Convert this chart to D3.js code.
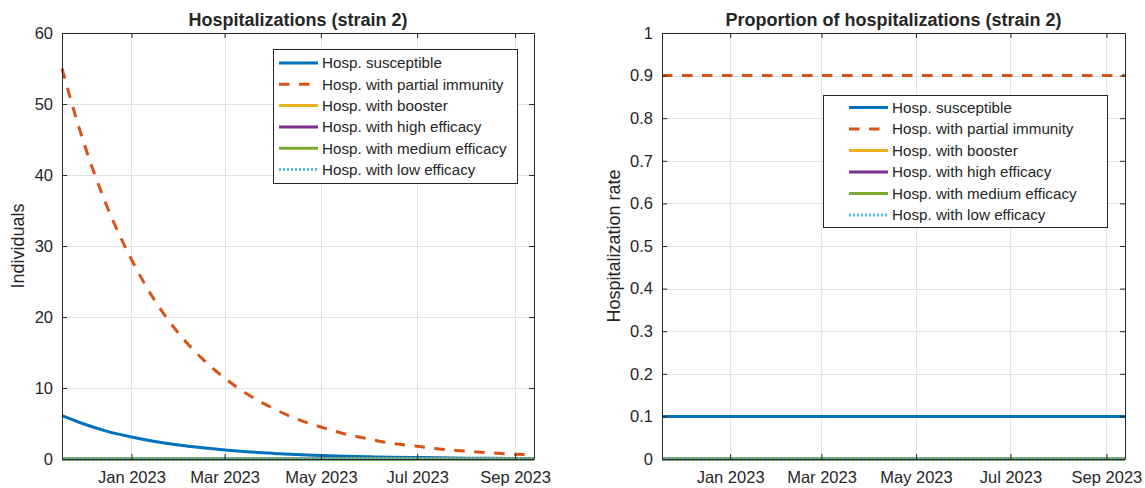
<!DOCTYPE html>
<html>
<head>
<meta charset="utf-8">
<script src="https://cdn.jsdelivr.net/npm/d3@7"></script>
<style>
  body { margin: 0; background: #fff; }
  svg { display: block; }
  text { font-family: "Liberation Sans", Arial, Helvetica, sans-serif; fill: #262626; }
</style>
</head>
<body>
<svg id="chart" width="1145" height="488"></svg>
<script>
// Sample dates of the simulation output
const dates = [
  "2022-11-18", "2022-12-01", "2022-12-15", "2023-01-01", "2023-01-15",
  "2023-02-01", "2023-02-15", "2023-03-01", "2023-03-15", "2023-04-01",
  "2023-04-15", "2023-05-01", "2023-05-15", "2023-06-01", "2023-06-15",
  "2023-07-01", "2023-07-15", "2023-08-01", "2023-08-15", "2023-09-01",
  "2023-09-13"
];

// Hospitalizations (individuals) per group
const hospSusceptible = [6.1, 5.0, 4.0, 3.1, 2.5, 1.93, 1.57, 1.27, 1.02, 0.79, 0.63, 0.50, 0.40, 0.31, 0.24, 0.20, 0.16, 0.12, 0.10, 0.08, 0.06];
const hospPartial     = [55.0, 45.1, 36.4, 28.1, 22.6, 17.4, 14.1, 11.4, 9.2, 7.1, 5.7, 4.5, 3.6, 2.8, 2.2, 1.8, 1.4, 1.1, 0.88, 0.68, 0.57];
const hospBooster     = [0, 0, 0, 0, 0, 0, 0, 0, 0, 0, 0, 0, 0, 0, 0, 0, 0, 0, 0, 0, 0];
const hospHigh        = [0, 0, 0, 0, 0, 0, 0, 0, 0, 0, 0, 0, 0, 0, 0, 0, 0, 0, 0, 0, 0];
const hospMedium      = [0, 0, 0, 0, 0, 0, 0, 0, 0, 0, 0, 0, 0, 0, 0, 0, 0, 0, 0, 0, 0];
const hospLow         = [0, 0, 0, 0, 0, 0, 0, 0, 0, 0, 0, 0, 0, 0, 0, 0, 0, 0, 0, 0, 0];

// Share of hospitalizations per group
const propSusceptible = [0.1, 0.1, 0.1, 0.1, 0.1, 0.1, 0.1, 0.1, 0.1, 0.1, 0.1, 0.1, 0.1, 0.1, 0.1, 0.1, 0.1, 0.1, 0.1, 0.1, 0.1];
const propPartial     = [0.9, 0.9, 0.9, 0.9, 0.9, 0.9, 0.9, 0.9, 0.9, 0.9, 0.9, 0.9, 0.9, 0.9, 0.9, 0.9, 0.9, 0.9, 0.9, 0.9, 0.9];
const propBooster     = [0, 0, 0, 0, 0, 0, 0, 0, 0, 0, 0, 0, 0, 0, 0, 0, 0, 0, 0, 0, 0];
const propHigh        = [0, 0, 0, 0, 0, 0, 0, 0, 0, 0, 0, 0, 0, 0, 0, 0, 0, 0, 0, 0, 0];
const propMedium      = [0, 0, 0, 0, 0, 0, 0, 0, 0, 0, 0, 0, 0, 0, 0, 0, 0, 0, 0, 0, 0];
const propLow         = [0, 0, 0, 0, 0, 0, 0, 0, 0, 0, 0, 0, 0, 0, 0, 0, 0, 0, 0, 0, 0];

const seriesNames = [
  "Hosp. susceptible",
  "Hosp. with partial immunity",
  "Hosp. with booster",
  "Hosp. with high efficacy",
  "Hosp. with medium efficacy",
  "Hosp. with low efficacy"
];
const seriesColors = ["#0072BD", "#D95319", "#EDB120", "#7E2F8E", "#77AC30", "#4DBEEE"];
const seriesDash = [null, "10.5,9.5", null, null, null, "2,2"];

const xTickDates = ["2023-01-01", "2023-03-01", "2023-05-01", "2023-07-01", "2023-09-01"];
const yTicksLeft = [0, 10, 20, 30, 40, 50, 60];
const yTicksRight = [0, 0.1, 0.2, 0.3, 0.4, 0.5, 0.6, 0.7, 0.8, 0.9, 1];

const parse = d3.timeParse("%Y-%m-%d");
const dateValues = dates.map(parse);
const xTicks = xTickDates.map(parse);

const svg = d3.select("#chart");
const AXIS = "#262626";
const GRID = "#e3e3e3";

function drawPanel(cfg) {
  const { left, right, top, bottom } = cfg;
  const x = d3.scaleTime().domain(d3.extent(dateValues)).range([left, right]);
  const y = d3.scaleLinear().domain(cfg.yDomain).range([bottom, top]);
  const g = svg.append("g");

  // background grid
  g.append("g").selectAll("line").data(xTicks).join("line")
    .attr("x1", d => Math.round(x(d)) + 0.5).attr("x2", d => Math.round(x(d)) + 0.5)
    .attr("y1", top).attr("y2", bottom)
    .attr("stroke", GRID).attr("stroke-width", 1);
  g.append("g").selectAll("line").data(cfg.yTicks).join("line")
    .attr("x1", left).attr("x2", right)
    .attr("y1", d => Math.round(y(d)) + 0.5).attr("y2", d => Math.round(y(d)) + 0.5)
    .attr("stroke", GRID).attr("stroke-width", 1);

  // series lines
  const line = d3.line()
    .x((d, i) => x(dateValues[i]))
    .y(d => y(d))
    .curve(d3.curveMonotoneX);
  cfg.series.forEach((vals, i) => {
    g.append("path")
      .attr("d", line(vals))
      .attr("fill", "none")
      .attr("stroke", seriesColors[i])
      .attr("stroke-width", 3)
      .attr("stroke-dasharray", seriesDash[i])
      .attr("stroke-linejoin", "round");
  });

  // axes box with inward ticks
  const fmt = d3.timeFormat("%b %Y");
  const bottomAxis = d3.axisBottom(x).tickValues(xTicks).tickFormat(fmt)
    .tickSizeInner(-5).tickSizeOuter(0).tickPadding(12);
  const topAxis = d3.axisTop(x).tickValues(xTicks).tickFormat("")
    .tickSizeInner(-5).tickSizeOuter(0);
  const leftAxis = d3.axisLeft(y).tickValues(cfg.yTicks).tickFormat(cfg.yFormat)
    .tickSizeInner(-5).tickSizeOuter(0).tickPadding(9);
  const rightAxis = d3.axisRight(y).tickValues(cfg.yTicks).tickFormat("")
    .tickSizeInner(-5).tickSizeOuter(0);

  const ax = [
    g.append("g").attr("transform", `translate(0,${bottom})`).call(bottomAxis),
    g.append("g").attr("transform", `translate(0,${top})`).call(topAxis),
    g.append("g").attr("transform", `translate(${left},0)`).call(leftAxis),
    g.append("g").attr("transform", `translate(${right},0)`).call(rightAxis)
  ];
  ax.forEach(a => {
    a.select(".domain").attr("stroke", AXIS).attr("stroke-width", 1);
    a.selectAll(".tick line").attr("stroke", AXIS);
    a.selectAll("text").attr("fill", AXIS)
      .style("font-family", "'Liberation Sans', Arial, Helvetica, sans-serif")
      .style("font-size", "16.5px");
  });

  // title
  svg.append("text")
    .attr("x", (left + right) / 2).attr("y", 26)
    .attr("text-anchor", "middle")
    .style("font-size", "18px").style("font-weight", "bold")
    .attr("fill", "#000")
    .text(cfg.title);

  // y label
  svg.append("text")
    .attr("transform", `translate(${cfg.yLabelX},${(top + bottom) / 2}) rotate(-90)`)
    .attr("text-anchor", "middle")
    .style("font-size", "18px")
    .text(cfg.yLabel);

  // legend
  const lg = cfg.legend;
  svg.append("rect")
    .attr("x", lg.x + 0.5).attr("y", lg.y + 0.5)
    .attr("width", lg.w).attr("height", lg.h)
    .attr("fill", "#fff").attr("stroke", AXIS).attr("stroke-width", 1);
  seriesNames.forEach((name, i) => {
    const cy = lg.y + lg.firstRow + i * lg.rowStep;
    svg.append("line")
      .attr("x1", lg.lineX).attr("x2", lg.lineX + 39)
      .attr("y1", cy).attr("y2", cy)
      .attr("stroke", seriesColors[i]).attr("stroke-width", 3)
      .attr("stroke-dasharray", seriesDash[i]);
    svg.append("text")
      .attr("x", lg.lineX + 43).attr("y", cy).attr("dy", "0.35em")
      .style("font-size", "15.2px")
      .text(name);
  });
}

drawPanel({
  left: 62, right: 534, top: 33, bottom: 459,
  yDomain: [0, 60], yTicks: yTicksLeft, yFormat: d3.format("d"),
  series: [hospSusceptible, hospPartial, hospBooster, hospHigh, hospMedium, hospLow],
  title: "Hospitalizations (strain 2)",
  yLabel: "Individuals", yLabelX: 24,
  legend: { x: 273, y: 49, w: 244, h: 134, lineX: 279, firstRow: 14, rowStep: 21.3 }
});

drawPanel({
  left: 662, right: 1125, top: 33, bottom: 459,
  yDomain: [0, 1], yTicks: yTicksRight, yFormat: d => d3.format("")(+d.toFixed(1)),
  series: [propSusceptible, propPartial, propBooster, propHigh, propMedium, propLow],
  title: "Proportion of hospitalizations (strain 2)",
  yLabel: "Hospitalization rate", yLabelX: 620,
  legend: { x: 823, y: 95, w: 284, h: 132, lineX: 849, firstRow: 12.5, rowStep: 21.5 }
});
</script>
</body>
</html>
